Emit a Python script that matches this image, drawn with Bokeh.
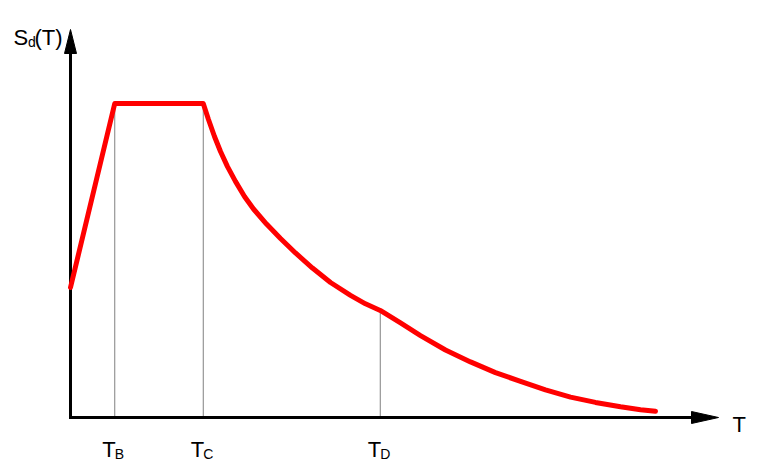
from bokeh.plotting import figure
from bokeh.models import Range1d, ColumnDataSource
from bokeh.core.properties import value
from bokeh.embed import file_html
from bokeh.resources import INLINE

# ---- data ----
T = [0.0, 0.5, 1.5, 1.559, 1.627, 1.695, 1.774, 1.864, 1.966, 2.068, 2.215,
     2.373, 2.542, 2.734, 2.938, 3.164, 3.333, 3.5,
     3.729, 3.955, 4.237, 4.520, 4.802, 5.085, 5.367, 5.650, 5.932, 6.215,
     6.441, 6.610]
Sd = [0.414, 1.0, 1.0, 0.949, 0.895, 0.847, 0.799, 0.752, 0.704, 0.664, 0.616,
      0.570, 0.524, 0.476, 0.430, 0.389, 0.362, 0.341,
      0.301, 0.261, 0.215, 0.177, 0.143, 0.115, 0.088, 0.065, 0.048, 0.034,
      0.025, 0.020]
corner_T = [0.5, 1.5, 3.5]
corner_Sd = [1.0, 1.0, 0.341]
corner_sub = ["B", "C", "D"]

FONT = value("Liberation Sans")
W, H = 758, 465
kx, ky = 88.5, 314.0           # px per unit
ox, oy = 70.0, 417.0           # origin position inside canvas (px)
x0 = -ox / kx
x1 = x0 + W / kx
y1 = oy / ky
y0 = y1 - H / ky

p = figure(width=W, height=H, x_range=Range1d(x0, x1), y_range=Range1d(y0, y1),
           x_axis_type=None, y_axis_type=None, toolbar_location=None,
           output_backend="svg", min_border=0, outline_line_color=None)
p.grid.visible = False
p.background_fill_color = "white"

def px_to_x(px):
    return (px - ox) / kx

def py_to_y(py):
    return (oy - py) / ky

# thin gray verticals at corner periods
p.segment(x0=corner_T, y0=[0] * len(corner_T), x1=corner_T, y1=corner_Sd,
          line_color="#808080", line_width=1)

# axes with arrow heads
x_tip = px_to_x(718)
y_tip = py_to_y(29)
hx_len, hx_half = 27 / kx, 6 / ky
hy_len, hy_half = 24 / ky, 6 / kx
p.line([0, 0, x_tip - hx_len], [y_tip - hy_len, 0, 0], line_color="black",
       line_width=3, line_join="miter")
p.patches(xs=[[x_tip, x_tip - hx_len, x_tip - hx_len],
              [0, -hy_half, hy_half]],
          ys=[[0, hx_half, -hx_half],
              [y_tip, y_tip - hy_len, y_tip - hy_len]],
          fill_color="black", line_color="black", line_width=1)

# spectrum curve
p.line(T, Sd, line_color="#ff0000", line_width=5, line_cap="round",
       line_join="round")

# axis titles
p.text(x=[px_to_x(13)], y=[py_to_y(37)], text=["S"], text_font=FONT,
       text_font_size="22px", text_baseline="alphabetic", text_align="left",
       text_color="black")
p.text(x=[px_to_x(27.5)], y=[py_to_y(41)], text=["d"], text_font=FONT,
       text_font_size="14px", text_baseline="alphabetic", text_align="left",
       text_color="black")
p.text(x=[px_to_x(34)], y=[py_to_y(37)], text=["(T)"], text_font=FONT,
       text_font_size="22px", text_baseline="alphabetic", text_align="left",
       text_color="black")
p.text(x=[px_to_x(732)], y=[py_to_y(424)], text=["T"], text_font=FONT,
       text_font_size="22px", text_baseline="alphabetic", text_align="left",
       text_color="black")

# corner labels T_B, T_C, T_D
src = ColumnDataSource(dict(x=corner_T, yT=[py_to_y(449)] * 3,
                            ys=[py_to_y(453)] * 3, sub=corner_sub,
                            t=["T"] * 3))
p.text(x="x", y="yT", text="t", source=src, text_font=FONT,
       text_font_size="22px", text_baseline="alphabetic", text_align="right",
       x_offset=1, text_color="black")
p.text(x="x", y="ys", text="sub", source=src, text_font=FONT,
       text_font_size="14px", text_baseline="alphabetic", text_align="left",
       x_offset=0, text_color="black")

open("out.html", "w").write(file_html(p, INLINE))
